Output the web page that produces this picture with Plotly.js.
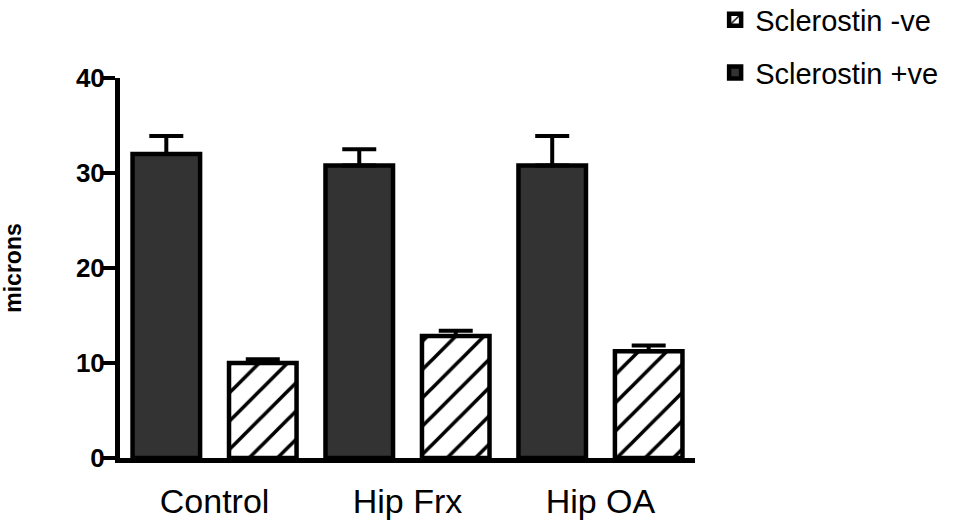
<!DOCTYPE html>
<html>
<head>
<meta charset="utf-8">
<script src="https://cdn.plot.ly/plotly-3.0.1.min.js"></script>
<style>html,body{margin:0;padding:0;background:#fff;}#chart{width:961px;height:524px;}</style>
</head>
<body>
<div id="chart"></div>
<script>
const categories = ["Control", "Hip Frx", "Hip OA"];
const positiveValues = [32.0, 30.8, 30.8];
const positiveErrors = [1.9, 1.7, 3.1];
const negativeValues = [10.0, 12.85, 11.25];
const negativeErrors = [0.4, 0.55, 0.6];
const seriesNames = ["Sclerostin +ve", "Sclerostin -ve"];
const yTicks = [0, 10, 20, 30, 40];

const font = "Arial, 'Liberation Sans', sans-serif";

const tracePos = {
  type: "bar", name: seriesNames[0], x: categories, y: positiveValues,
  legendgroup: "pos", legendrank: 2,
  marker: {color: "#333333", line: {color: "#000", width: 4.5}},
  error_y: {type: "data", symmetric: false, array: positiveErrors,
            arrayminus: positiveValues.map(() => 0),
            color: "#000", thickness: 4, width: 17}
};
const traceNeg = {
  type: "bar", name: seriesNames[1], x: categories, y: negativeValues,
  legendgroup: "neg", legendrank: 1,
  marker: {color: "#ffffff", line: {color: "#000", width: 4.5},
           pattern: {shape: "/", fgcolor: "#000", bgcolor: "#fff", size: 20, solidity: 0.18}},
  error_y: {type: "data", symmetric: false, array: negativeErrors,
            arrayminus: negativeValues.map(() => 0),
            color: "#000", thickness: 4, width: 17}
};

const layout = {
  width: 961, height: 524,
  margin: {l: 120, r: 266, t: 78, b: 66, autoexpand: false},
  paper_bgcolor: "#fff", plot_bgcolor: "#fff",
  barmode: "group", bargap: 0, bargroupgap: 0.3,
  font: {family: font, color: "#000"},
  showlegend: true,
  legend: {x: 1.035, xanchor: "left", y: 1.22, yanchor: "top",
           traceorder: "grouped", tracegroupgap: 12,
           font: {size: 29, family: font}, bgcolor: "rgba(0,0,0,0)"},
  xaxis: {
    type: "category", range: [-0.49, 2.49], showgrid: false, zeroline: false,
    showline: true, linecolor: "#000", linewidth: 4.5, ticks: "",
    tickfont: {size: 34, family: font}, ticklabelstandoff: 10
  },
  yaxis: {
    range: [0, 40], tickvals: yTicks, ticktext: yTicks.map(String),
    showgrid: false, zeroline: false,
    showline: true, linecolor: "#000", linewidth: 5,
    ticks: "outside", ticklen: 12, tickwidth: 4, tickcolor: "#000",
    tickfont: {size: 26, family: font, weight: "bold"}, ticklabelstandoff: -7,
    title: {text: "microns", font: {size: 23, family: font, weight: "bold"}, standoff: 50}
  }
};

Plotly.newPlot("chart", [tracePos, traceNeg], layout, {staticPlot: true, displayModeBar: false});
</script>
</body>
</html>
